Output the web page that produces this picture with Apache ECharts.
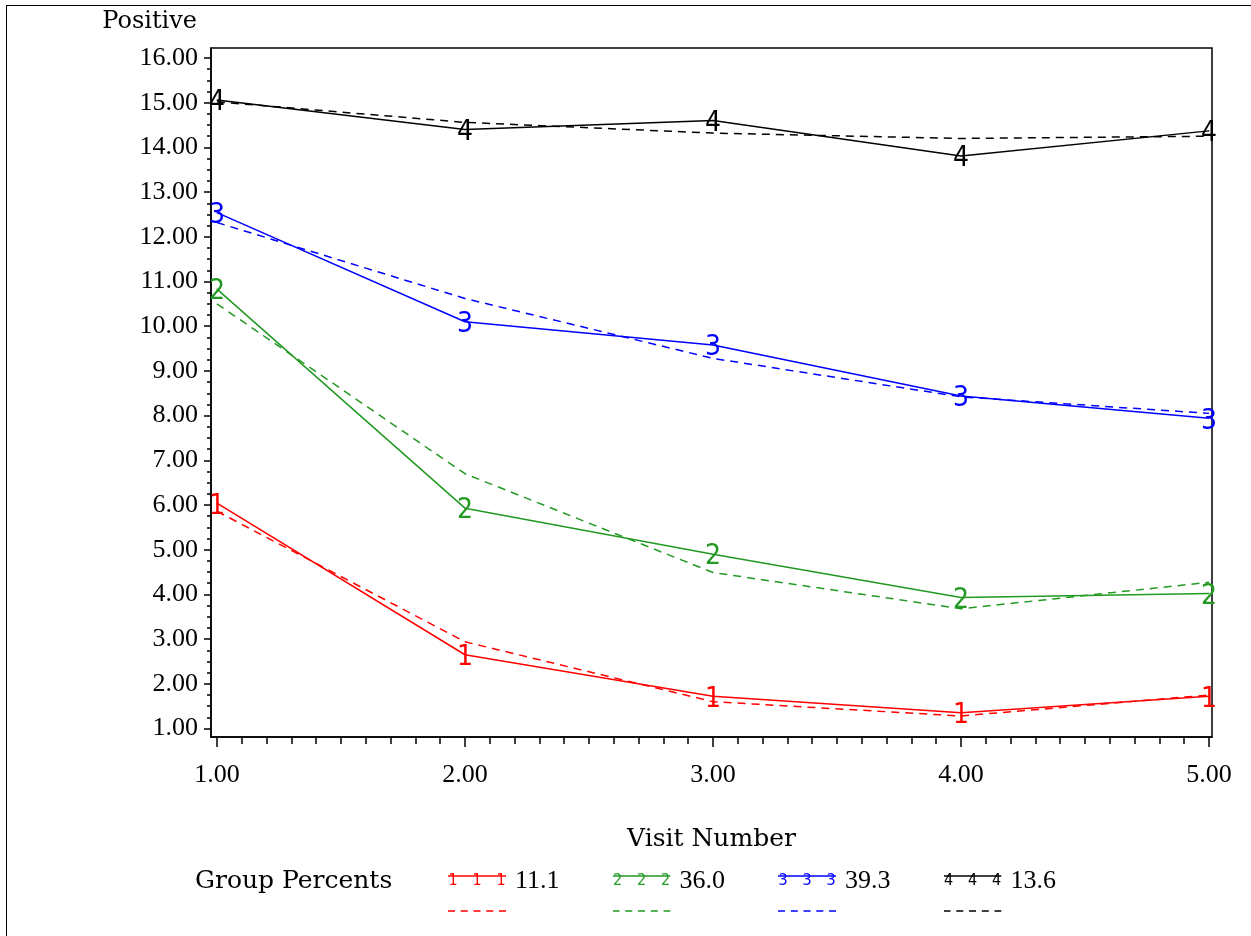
<!DOCTYPE html>
<html>
    <head>
        <meta charset="utf-8">
        <title>Positive by Visit Number</title>
        <style>
            body{
                margin:0;
                background-color:#FFFFFF;
                overflow:hidden;
            }
            #frame{
                position:absolute;
                left:6px;
                top:5px;
                width:1400px;
                height:1100px;
                border-left:1px solid #000;
                border-top:1px solid #000;
            }
            #main{
                position:absolute;
                left:0;
                top:0;
                width:1251px;
                height:936px;
            }
        </style>
    </head>
    <body>
        <div id="frame"></div>
        <div id="main"></div>

    <script src="https://cdn.jsdelivr.net/npm/echarts@6/dist/echarts.min.js"></script>

    <script>
        // 数据
        var visits = [1, 2, 3, 4, 5];
        var groupNames = ['11.1', '36.0', '39.3', '13.6'];
        var groupDigits = ['1', '2', '3', '4'];
        var groupColors = ['#FF0000', '#229922', '#0000FF', '#000000'];

        // 观测值（实线）
        var obs1 = [6.04, 2.65, 1.72, 1.35, 1.72];
        var obs2 = [10.83, 5.93, 4.90, 3.93, 4.02];
        var obs3 = [12.54, 10.10, 9.58, 8.44, 7.94];
        var obs4 = [15.06, 14.40, 14.60, 13.81, 14.37];

        // 拟合值（虚线）
        var fit1 = [5.86, 2.94, 1.60, 1.28, 1.75];
        var fit2 = [10.50, 6.70, 4.49, 3.68, 4.27];
        var fit3 = [12.32, 10.62, 9.28, 8.42, 8.05];
        var fit4 = [15.02, 14.56, 14.32, 14.20, 14.25];

        // 刻度
        var xTicks = [1, 2, 3, 4, 5];
        var yTicks = [1, 2, 3, 4, 5, 6, 7, 8, 9, 10, 11, 12, 13, 14, 15, 16];
        var xMinorTicks = [];
        for (var i = 10; i <= 50; i++) {
            if (i % 10 !== 0) xMinorTicks.push(i / 10);
        }
        var yMinorTicks = [];
        for (var j = 4; j <= 64; j++) {
            if (j % 4 !== 0) yMinorTicks.push(j / 4);
        }

        var obsData = [obs1, obs2, obs3, obs4];
        var fitData = [fit1, fit2, fit3, fit4];

        var numFont = '"Liberation Serif", "Times New Roman", serif';
        var textFont = '"DejaVu Serif", serif';
        var digitFont = '"Liberation Sans Narrow", "DejaVu Sans Condensed", sans-serif';

        function svgIcon(inner) {
            var svg = '<svg xmlns="http://www.w3.org/2000/svg" width="58" height="24">' + inner + '</svg>';
            return 'image://data:image/svg+xml;charset=utf-8,' + encodeURIComponent(svg);
        }
        function solidIcon(color, digit) {
            var s = '<line x1="0" y1="7" x2="58" y2="7" stroke="' + color + '" stroke-width="1.5"/>';
            [5, 29, 53].forEach(function (x) {
                s += '<text x="' + x + '" y="16" text-anchor="middle" font-family="Liberation Sans Narrow, DejaVu Sans Condensed" ' +
                    'font-size="16" fill="' + color + '">' + digit + '</text>';
            });
            return svgIcon(s);
        }
        function dashIcon(color) {
            return svgIcon('<line x1="0" y1="12" x2="58" y2="12" stroke="' + color +
                '" stroke-width="1.5" stroke-dasharray="7,5.75"/>');
        }

        function pairs(ys) {
            return visits.map(function (v, k) { return [v, ys[k]]; });
        }

        var series = [];
        var legendSolid = [];
        var legendDash = [];
        for (var g = 0; g < 4; g++) {
            series.push({
                name: 'fit ' + groupNames[g],
                type: 'line',
                data: pairs(fitData[g]),
                symbol: 'none',
                lineStyle: { color: groupColors[g], width: 1.5, type: [8, 6] },
                itemStyle: { color: groupColors[g] },
                z: 2
            });
        }
        for (var g2 = 0; g2 < 4; g2++) {
            (function (digit, color) {
                series.push({
                    name: groupNames[g2],
                    type: 'line',
                    data: pairs(obsData[g2]),
                    symbol: 'circle',
                    symbolSize: 1,
                    lineStyle: { color: color, width: 1.5 },
                    itemStyle: { color: color },
                    label: {
                        show: true,
                        position: 'inside',
                        offset: [0, 3],
                        formatter: function () { return digit; },
                        color: color,
                        fontFamily: digitFont,
                        fontSize: 28,
                        fontWeight: 'lighter'
                    },
                    z: 3
                });
            })(groupDigits[g2], groupColors[g2]);
            legendSolid.push({ name: groupNames[g2], icon: solidIcon(groupColors[g2], groupDigits[g2]) });
            legendDash.push({ name: 'fit ' + groupNames[g2], icon: dashIcon(groupColors[g2]) });
        }

        var xMin = 0.976, xMax = 5.012;
        var yMin = 0.81, yMax = 16.224;

        var myChart = echarts.init(document.getElementById('main'));
        var option = {
            animation: false,
            title: [{
                text: 'Group Percents',
                left: 190,
                top: 864,
                textStyle: { fontFamily: textFont, fontSize: 25, fontWeight: 'normal', color: '#000' }
            }],
            grid: {
                left: 211, top: 48, right: 39, bottom: 199,
                show: true,
                borderColor: '#000',
                borderWidth: 1.5,
                backgroundColor: 'transparent'
            },
            legend: [{
                data: legendSolid,
                left: 443,
                top: 863,
                itemWidth: 58,
                itemHeight: 24,
                itemGap: 53,
                selectedMode: false,
                textStyle: { fontFamily: numFont, fontSize: 26, color: '#000', padding: [0, 0, 0, 4] }
            }, {
                data: legendDash,
                left: 443,
                top: 893,
                itemWidth: 58,
                itemHeight: 24,
                itemGap: 53,
                selectedMode: false,
                formatter: function (name) { return name.replace('fit ', ''); },
                textStyle: { fontFamily: numFont, fontSize: 26, color: 'rgba(0,0,0,0)', padding: [0, 0, 0, 4] }
            }],
            xAxis: [{
                type: 'value',
                min: xMin, max: xMax,
                position: 'bottom',
                name: 'Visit Number',
                nameLocation: 'middle',
                nameGap: 90,
                nameTextStyle: { fontFamily: textFont, fontSize: 25, color: '#000' },
                splitLine: { show: false },
                axisLine: { show: true, lineStyle: { color: '#000', width: 1.5 } },
                axisTick: { show: true, customValues: xTicks, length: 10, lineStyle: { color: '#000', width: 1.5 } },
                axisLabel: {
                    customValues: xTicks,
                    margin: 25,
                    formatter: function (v) { return v.toFixed(2); },
                    fontFamily: numFont, fontSize: 26, color: '#000'
                }
            }, {
                type: 'value',
                min: xMin, max: xMax,
                position: 'bottom',
                splitLine: { show: false },
                axisLine: { show: false },
                axisTick: { show: true, customValues: xMinorTicks, length: 7, lineStyle: { color: '#000', width: 1.5 } },
                axisLabel: { show: false }
            }],
            yAxis: [{
                type: 'value',
                min: yMin, max: yMax,
                position: 'left',
                name: 'Positive',
                nameLocation: 'end',
                nameGap: 26,
                nameTextStyle: {
                    fontFamily: textFont, fontSize: 24, color: '#000',
                    align: 'right', verticalAlign: 'middle', padding: [0, 14, 0, 0]
                },
                splitLine: { show: false },
                axisLine: { show: true, lineStyle: { color: '#000', width: 1.5 } },
                axisTick: { show: true, customValues: yTicks, length: 7, lineStyle: { color: '#000', width: 1.5 } },
                axisLabel: {
                    customValues: yTicks,
                    margin: 13,
                    formatter: function (v) { return v.toFixed(2); },
                    fontFamily: numFont, fontSize: 26, color: '#000'
                }
            }, {
                type: 'value',
                min: yMin, max: yMax,
                position: 'left',
                splitLine: { show: false },
                axisLine: { show: false },
                axisTick: { show: true, customValues: yMinorTicks, length: 4, lineStyle: { color: '#000', width: 1.5 } },
                axisLabel: { show: false }
            }],
            series: series
        };
        myChart.setOption(option);
    </script>
    </body>
</html>
